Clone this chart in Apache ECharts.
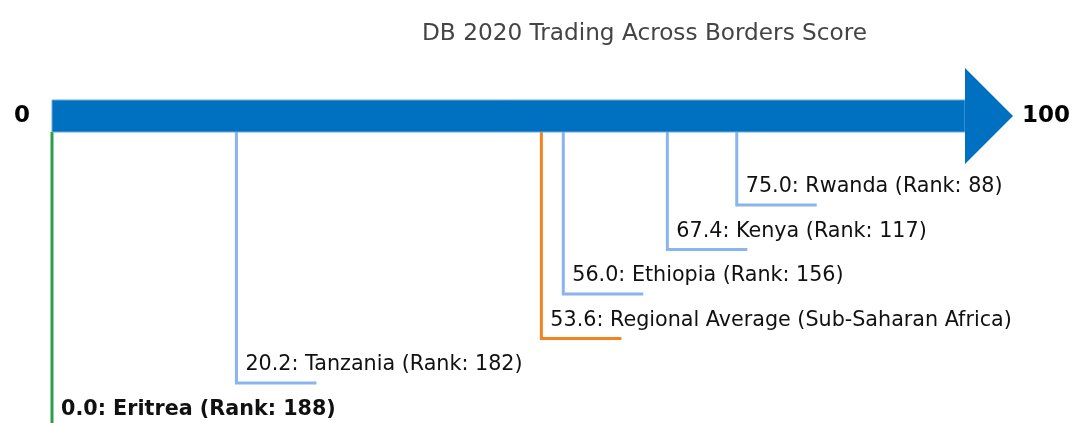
<!DOCTYPE html>
<html>
<head>
<meta charset="utf-8">
<script src="https://cdn.jsdelivr.net/npm/echarts@6/dist/echarts.min.js"></script>
<style>
  html, body { margin: 0; padding: 0; background: #fff; }
  #main { width: 1072px; height: 423px; }
</style>
</head>
<body>
<div id="main"></div>
<script>
// data
var chartTitle = 'DB 2020 Trading Across Borders Score';
var countries = ['Rwanda', 'Kenya', 'Ethiopia', 'Regional Average (Sub-Saharan Africa)', 'Tanzania', 'Eritrea'];
var scores = [75.0, 67.4, 56.0, 53.6, 20.2, 0.0];
var ranks = [88, 117, 156, null, 182, 188];
var scaleEnds = [0, 100];
var focusCountry = 'Eritrea';
var regionName = 'Regional Average (Sub-Saharan Africa)';

var FONT = '"DejaVu Sans", Verdana, sans-serif';
var BAR_COLOR = '#0070C0';

function labelFor(i) {
    var txt = scores[i].toFixed(1) + ': ' + countries[i];
    if (ranks[i] != null) txt += ' (Rank: ' + ranks[i] + ')';
    return txt;
}
function colorFor(name) {
    if (name === focusCountry) return '#2E9E48';
    if (name === regionName) return '#F5821F';
    return '#8AB4EC';
}

// each marker goes one level deeper than the previous one (sorted high -> low)
var markerData = scores.map(function (s, i) { return [s, i + 1, i]; });
var arrowData = [[scaleEnds[0], scaleEnds[1]]];

var chart = echarts.init(document.getElementById('main'));

var option = {
    animation: false,
    title: {
        text: chartTitle,
        left: 422,
        top: 22,
        padding: 0,
        textStyle: { fontFamily: FONT, fontSize: 23.2, fontWeight: 'normal', color: '#444' }
    },
    grid: { left: 52, right: 107, top: 116, bottom: 40 },
    xAxis: { type: 'value', min: scaleEnds[0], max: scaleEnds[1], show: false },
    yAxis: { type: 'value', min: -1, max: 5, inverse: true, show: false },
    series: [
        {
            // drop lines with labels
            type: 'custom',
            clip: false,
            data: markerData,
            renderItem: function (params, api) {
                var i = api.value(2);
                var barY = api.coord([api.value(0), -1]);
                var p = api.coord([api.value(0), api.value(1)]);
                var top = barY[1] + 16;
                var col = colorFor(countries[i]);
                var bold = countries[i] === focusCountry;
                return {
                    type: 'group',
                    children: [
                        {
                            type: 'polyline',
                            shape: { points: [[p[0], top], [p[0], p[1]], [p[0] + 80, p[1]]] },
                            style: { stroke: col, lineWidth: 3, fill: null, lineJoin: 'miter' }
                        },
                        {
                            type: 'text',
                            x: p[0] + 9,
                            y: p[1] - 18,
                            style: {
                                text: labelFor(i),
                                fontFamily: FONT,
                                fontSize: 20.7,
                                fontWeight: bold ? 'bold' : 'normal',
                                fill: '#111',
                                align: 'left',
                                verticalAlign: 'middle'
                            }
                        }
                    ]
                };
            },
            z: 1
        },
        {
            // the big arrow
            type: 'custom',
            clip: false,
            data: arrowData,
            renderItem: function (params, api) {
                var a = api.coord([api.value(0), -1]);
                var b = api.coord([api.value(1), -1]);
                var h = 16;
                return {
                    type: 'group',
                    children: [
                        {
                            type: 'rect',
                            shape: { x: a[0], y: a[1] - h, width: b[0] - a[0], height: 2 * h },
                            style: { fill: BAR_COLOR, stroke: '#6FA8DC', lineWidth: 1 }
                        },
                        {
                            type: 'polygon',
                            shape: { points: [[b[0], a[1] - 48], [b[0] + 48, a[1]], [b[0], a[1] + 48]] },
                            style: { fill: BAR_COLOR }
                        },
                        {
                            type: 'text',
                            x: a[0] - 22,
                            y: a[1],
                            style: {
                                text: String(api.value(0)), fontFamily: FONT, fontSize: 23,
                                fontWeight: 'bold', fill: '#000', align: 'right', verticalAlign: 'middle'
                            }
                        },
                        {
                            type: 'text',
                            x: b[0] + 57,
                            y: a[1],
                            style: {
                                text: String(api.value(1)), fontFamily: FONT, fontSize: 23,
                                fontWeight: 'bold', fill: '#000', align: 'left', verticalAlign: 'middle'
                            }
                        }
                    ]
                };
            },
            z: 2
        }
    ]
};

chart.setOption(option);
</script>
</body>
</html>
